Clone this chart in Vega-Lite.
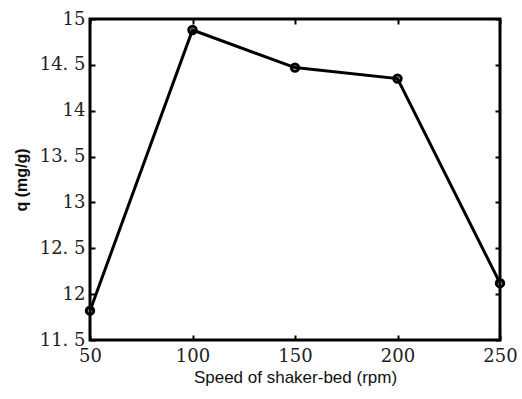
{
  "$schema": "https://vega.github.io/schema/vega-lite/v6.json",
  "width": 410,
  "height": 321,
  "autosize": "none",
  "padding": {"left": 90, "top": 19, "right": 22, "bottom": 59},
  "background": "white",
  "config": {
    "view": {"stroke": "black", "strokeWidth": 3},
    "axis": {"grid": false, "domain": false, "tickColor": "black", "tickWidth": 2, "tickSize": -5, "labelColor": "#222", "labelFont": "DejaVu Serif", "labelFontSize": 18, "titleFont": "Liberation Sans", "titleFontSize": 17, "titleFontWeight": "normal", "titleColor": "#111"}
  },
  "data": {"values": [
    {"speed": 50, "q": 11.82},
    {"speed": 100, "q": 14.88},
    {"speed": 150, "q": 14.47},
    {"speed": 200, "q": 14.35},
    {"speed": 250, "q": 12.12}
  ]},
  "resolve": {"axis": {"x": "independent", "y": "independent"}},
  "layer": [
    {
      "mark": {"type": "line", "color": "black", "strokeWidth": 3},
      "encoding": {
        "x": {"field": "speed", "type": "quantitative", "scale": {"domain": [50, 250], "nice": false, "zero": false},
          "axis": {"title": "Speed of shaker-bed (rpm)", "values": [50, 100, 150, 200, 250], "labelPadding": 12, "titlePadding": 4, "labelFlush": false}},
        "y": {"field": "q", "type": "quantitative", "scale": {"domain": [11.5, 15], "nice": false, "zero": false},
          "axis": {"title": "q (mg/g)", "titleFontWeight": "bold", "titleFontSize": 16, "values": [11.5, 12, 12.5, 13, 13.5, 14, 14.5, 15], "format": "~g", "labelExpr": "replace(datum.label, '.', '. ')", "labelPadding": 10, "titlePadding": 10, "labelFlush": false}}
      }
    },
    {
      "mark": {"type": "point", "color": "black", "filled": false, "strokeWidth": 3, "size": 55, "opacity": 1},
      "encoding": {
        "x": {"field": "speed", "type": "quantitative", "axis": {"orient": "top", "labels": false, "title": null, "values": [50, 100, 150, 200, 250]}},
        "y": {"field": "q", "type": "quantitative", "axis": {"orient": "right", "labels": false, "title": null, "values": [11.5, 12, 12.5, 13, 13.5, 14, 14.5, 15]}}
      }
    }
  ]
}
